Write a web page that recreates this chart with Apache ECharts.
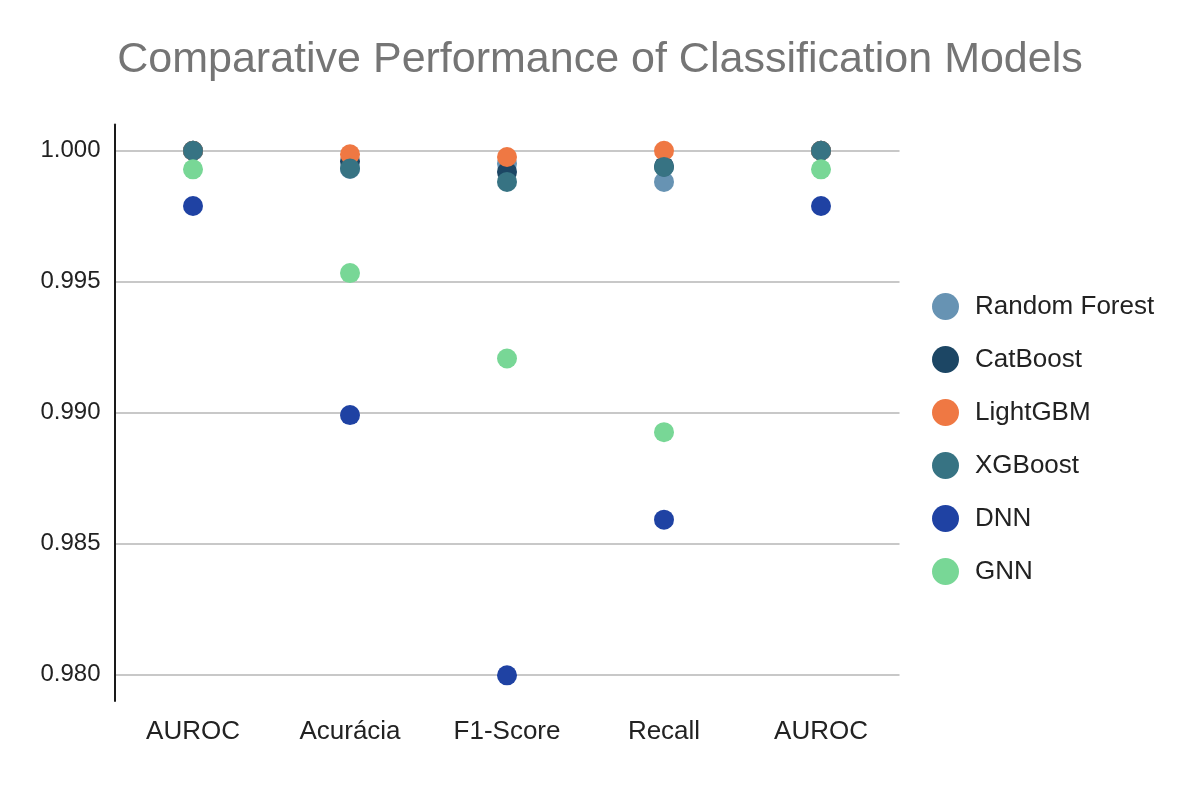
<!DOCTYPE html>
<html>
<head>
<meta charset="utf-8">
<script src="https://cdn.jsdelivr.net/npm/echarts@6/dist/echarts.min.js"></script>
<style>
  html, body { margin: 0; padding: 0; background: #fff; }
  #chart { width: 1200px; height: 794px; }
</style>
</head>
<body>
<div id="chart"></div>
<script>
// metrics on the x axis (AUROC shows up twice in the original)
const categories = ['AUROC', 'Acurácia', 'F1-Score', 'Recall', 'AUROC'];
const yTicks = [0.980, 0.985, 0.990, 0.995, 1.000];

const randomForest = [1.0000, 0.9993, 0.9995, 0.99881, 1.0000];
const catBoost     = [1.0000, 0.9996, 0.99919, 0.9994, 1.0000];
const lightGBM     = [1.0000, 0.99986, 0.99976, 1.0000, 1.0000];
const xgBoost      = [1.0000, 0.99932, 0.99881, 0.99938, 1.0000];
const dnn          = [0.99789, 0.98991, 0.97998, 0.98592, 0.99789];
const gnn          = [0.99929, 0.99533, 0.99207, 0.98926, 0.99929];

const seriesDefs = [
  { name: 'Random Forest', data: randomForest, color: '#6793b3' },
  { name: 'CatBoost', data: catBoost, color: '#1c4664' },
  { name: 'LightGBM', data: lightGBM, color: '#ef7843' },
  { name: 'XGBoost', data: xgBoost, color: '#377383' },
  { name: 'DNN', data: dnn, color: '#1f42a3' },
  { name: 'GNN', data: gnn, color: '#78d796' }
];

let chart = echarts.init(document.getElementById('chart'));
let option = {
  backgroundColor: '#fff',
  animation: false,
  title: {
    text: 'Comparative Performance of Classification Models',
    left: 'center',
    top: 34,
    textStyle: {
      fontFamily: 'Liberation Sans',
      fontSize: 43,
      fontWeight: 'normal',
      color: '#757575'
    }
  },
  legend: {
    orient: 'vertical',
    left: 927,
    top: 288,
    icon: 'circle',
    itemWidth: 27,
    itemHeight: 27,
    itemGap: 26,
    textStyle: {
      fontFamily: 'Liberation Sans',
      fontSize: 26,
      color: '#222',
      padding: [0, 0, 0, 11]
    },
    data: seriesDefs.map(s => s.name)
  },
  grid: {
    left: 114.5,
    right: 300.5,
    top: 124.5,
    bottom: 93
  },
  xAxis: {
    type: 'category',
    data: categories,
    boundaryGap: true,
    axisLine: { show: false },
    axisTick: { show: false },
    axisLabel: {
      margin: 18,
      fontFamily: 'Liberation Sans',
      fontSize: 26,
      color: '#222'
    }
  },
  yAxis: {
    type: 'value',
    min: 0.979,
    max: 1.001,
    axisLine: {
      show: true,
      lineStyle: { color: '#1a1a1a', width: 2 }
    },
    axisTick: { show: false, customValues: yTicks },
    axisLabel: {
      customValues: yTicks,
      margin: 14,
      fontFamily: 'Liberation Sans',
      fontSize: 24,
      color: '#222',
      formatter: v => v.toFixed(3)
    },
    splitLine: {
      show: true,
      lineStyle: { color: '#c8c8c8', width: 2 }
    }
  },
  series: seriesDefs.map(s => ({
    name: s.name,
    type: 'scatter',
    data: s.data,
    symbolSize: 20,
    itemStyle: { color: s.color, opacity: 1 }
  }))
};
chart.setOption(option);
</script>
</body>
</html>
